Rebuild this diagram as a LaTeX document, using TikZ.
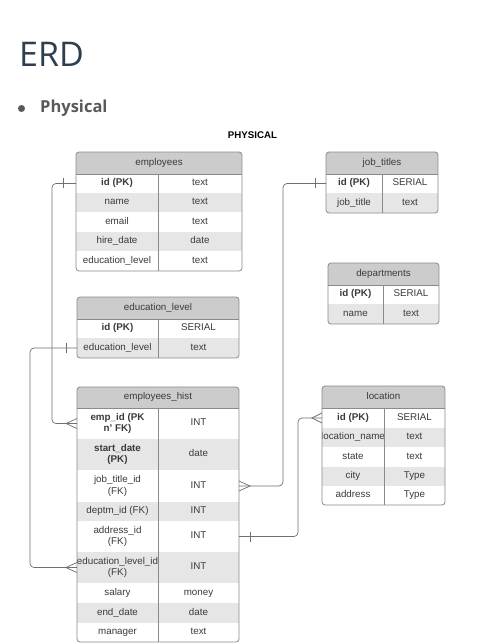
\documentclass[tikz,border=0pt]{standalone}
\usepackage{fontspec}
\setmainfont{Liberation Sans}
\newfontfamily\osfont{Open Sans}
\usetikzlibrary{calc}
\definecolor{hdrgray}{HTML}{CCCCCC}
\definecolor{rowgray}{HTML}{E6E6E6}
\definecolor{framegray}{HTML}{8A8A8A}
\definecolor{linegray}{HTML}{707070}
\definecolor{txtgray}{HTML}{3A3A3A}
\definecolor{erdblue}{HTML}{2E3E4E}
\definecolor{physgray}{HTML}{595959}
\tikzset{
  cell/.style={draw=none, inner sep=0pt, outer sep=0pt, align=center, text=txtgray,
    font=\fontsize{9.8}{11.5}\selectfont},
  hdr/.style={cell, fill=hdrgray},
  frame/.style={draw=framegray, line width=0.8pt},
  conn/.style={draw=linegray, line width=0.7pt, rounded corners=4pt},
  erdmark/.style={draw=linegray, line width=0.7pt},
}
\newcommand\cst{\rule[-2.5pt]{0pt}{9.5pt}}
\newcommand\erdrow[9]{%
 \node[cell, fill=#7, minimum width={(#3-#2)*1pt}, minimum height={(#6-#5)*1pt}] (#1-l) at ({(#2+#3)/2},{(#5+#6)/2}) {\cst#8\cst};%
 \node[cell, fill=#7, minimum width={(#4-#3)*1pt}, minimum height={(#6-#5)*1pt}] (#1-r) at ({(#3+#4)/2},{(#5+#6)/2}) {\cst#9\cst};%
}
\newcommand\erdhead[6]{%
 \node[hdr, minimum width={(#3-#2)*1pt}, minimum height={(#5-#4)*1pt}] (#1) at ({(#2+#3)/2},{(#4+#5)/2}) {\cst#6\cst};%
}
\newcommand\erdframe[6]{%
 \draw[frame] (#2,#5) -- (#2,#6);%
 \draw[frame] (#1,#5) -- (#3,#5);%
 \draw[frame, rounded corners=3pt] (#1,#4) rectangle (#3,#6);%
}
\newcommand\erdclip[4]{\clip[rounded corners=3pt] (#1,#2) rectangle (#3,#4);}
\begin{document}
\begin{tikzpicture}[x={(1pt,0)}, y={(0,-1pt)}]
\useasboundingbox (0,0) rectangle (495,644);
\fill[white] (0,0) rectangle (495,644);

% titles
\node[anchor=base west, inner sep=0pt, text=erdblue, font=\osfont\fontsize{34}{40}\selectfont] (erd) at (19,67) {ERD};
\fill[physgray] (21.5,108.5) circle (3.5);
\node[anchor=base west, inner sep=0pt, text=physgray, font=\osfont\bfseries\fontsize{16.5}{20}\selectfont] (phys) at (40,113) {Physical};
\node[anchor=base, inner sep=0pt, font=\bfseries\fontsize{9.7}{11}\selectfont] (physcap) at (252.5,139) {PHYSICAL};

% employees
\begin{scope}
\erdclip{76}{152}{242}{271}
\erdhead{emp}{76}{242}{152}{174}{employees}
\erdrow{emp-id}{76}{158}{242}{174}{193}{white}{\textbf{id (PK)}}{text}
\erdrow{emp-name}{76}{158}{242}{193}{212}{rowgray}{name}{text}
\erdrow{emp-email}{76}{158}{242}{212}{232}{white}{email}{text}
\erdrow{emp-hire}{76}{158}{242}{232}{251}{rowgray}{hire\_date}{date}
\erdrow{emp-edu}{76}{158}{242}{251}{271}{white}{education\_level}{text}
\end{scope}
\erdframe{76}{158}{242}{152}{174}{271}

% job_titles
\begin{scope}
\erdclip{326}{152}{438}{213}
\erdhead{jt}{326}{438}{152}{174}{job\_titles}
\erdrow{jt-id}{326}{382}{438}{174}{193}{white}{\textbf{id (PK)}}{SERIAL}
\erdrow{jt-title}{326}{382}{438}{193}{213}{rowgray}{job\_title}{text}
\end{scope}
\erdframe{326}{382}{438}{152}{174}{213}

% departments
\begin{scope}
\erdclip{328}{263}{439}{324}
\erdhead{dep}{328}{439}{263}{285}{departments}
\erdrow{dep-id}{328}{383}{439}{285}{304}{white}{\textbf{id (PK)}}{SERIAL}
\erdrow{dep-name}{328}{383}{439}{304}{324}{rowgray}{name}{text}
\end{scope}
\erdframe{328}{383}{439}{263}{285}{324}

% education_level
\begin{scope}
\erdclip{77}{297}{239}{358}
\erdhead{el}{77}{239}{297}{319}{education\_level}
\erdrow{el-id}{77}{158}{239}{319}{338}{white}{\textbf{id (PK)}}{SERIAL}
\erdrow{el-lev}{77}{158}{239}{338}{358}{rowgray}{education\_level}{text}
\end{scope}
\erdframe{77}{158}{239}{297}{319}{358}

% employees_hist
\begin{scope}
\erdclip{77}{387}{239}{642}
\erdhead{eh}{77}{239}{387}{408}{employees\_hist}
\erdrow{eh-empid}{77}{158}{239}{408}{439}{white}{\textbf{emp\_id (PK}\\\textbf{n' FK)}}{INT}
\erdrow{eh-start}{77}{158}{239}{439}{470}{rowgray}{\textbf{start\_date}\\\textbf{(PK)}}{date}
\erdrow{eh-job}{77}{158}{239}{470}{502}{white}{job\_title\_id\\(FK)}{INT}
\erdrow{eh-dept}{77}{158}{239}{502}{521}{rowgray}{deptm\_id (FK)}{INT}
\erdrow{eh-addr}{77}{158}{239}{521}{552}{white}{address\_id\\(FK)}{INT}
\erdrow{eh-edu}{77}{158}{239}{552}{583}{rowgray}{education\_level\_id\\(FK)}{INT}
\erdrow{eh-sal}{77}{158}{239}{583}{603}{white}{salary}{money}
\erdrow{eh-end}{77}{158}{239}{603}{623}{rowgray}{end\_date}{date}
\erdrow{eh-man}{77}{158}{239}{623}{642}{white}{manager}{text}
\end{scope}
\erdframe{77}{158}{239}{387}{408}{642}

% location
\begin{scope}
\erdclip{322}{386}{445}{505}
\erdhead{loc}{322}{445}{386}{408}{location}
\erdrow{loc-id}{322}{384}{445}{408}{428}{white}{\textbf{id (PK)}}{SERIAL}
\erdrow{loc-name}{322}{384}{445}{428}{447}{rowgray}{location\_name}{text}
\erdrow{loc-state}{322}{384}{445}{447}{467}{white}{state}{text}
\erdrow{loc-city}{322}{384}{445}{467}{486}{rowgray}{city}{Type}
\erdrow{loc-addr}{322}{384}{445}{486}{505}{white}{address}{Type}
\end{scope}
\erdframe{322}{384}{445}{386}{408}{505}

% connector: employees.id -> employees_hist.emp_id
\draw[conn] (emp-id-l.west) -- ++(-24,0) |- (eh-empid-l.west);
\draw[erdmark] ($(emp-id-l.west)+(-13,-5)$) -- ($(emp-id-l.west)+(-13,5)$);
\draw[erdmark] ($(eh-empid-l.west)+(0,-5)$) -- ($(eh-empid-l.west)+(-11,0)$) -- ($(eh-empid-l.west)+(0,5)$);

% connector: job_titles.id -> employees_hist.job_title_id
\draw[conn] (jt-id-l.west) -- ++(-43,0) |- (eh-job-r.east);
\draw[erdmark] ($(jt-id-l.west)+(-11,-5)$) -- ($(jt-id-l.west)+(-11,5)$);
\draw[erdmark] ($(eh-job-r.east)+(0,-5)$) -- ($(eh-job-r.east)+(11,0)$) -- ($(eh-job-r.east)+(0,5)$);

% connector: education_level -> employees_hist.education_level_id
\draw[conn] (el-lev-l.west) -- ++(-47,0) |- (eh-edu-l.west);
\draw[erdmark] ($(el-lev-l.west)+(-11,-5)$) -- ($(el-lev-l.west)+(-11,5)$);
\draw[erdmark] ($(eh-edu-l.west)+(0,-5)$) -- ($(eh-edu-l.west)+(-11,0)$) -- ($(eh-edu-l.west)+(0,5)$);

% connector: location.id -> employees_hist.address_id
\draw[conn] (loc-id-l.west) -- ++(-24,0) |- (eh-addr-r.east);
\draw[erdmark] ($(loc-id-l.west)+(0,-5)$) -- ($(loc-id-l.west)+(-10,0)$) -- ($(loc-id-l.west)+(0,5)$);
\draw[erdmark] ($(eh-addr-r.east)+(11,-5)$) -- ($(eh-addr-r.east)+(11,5)$);
\end{tikzpicture}
\end{document}
